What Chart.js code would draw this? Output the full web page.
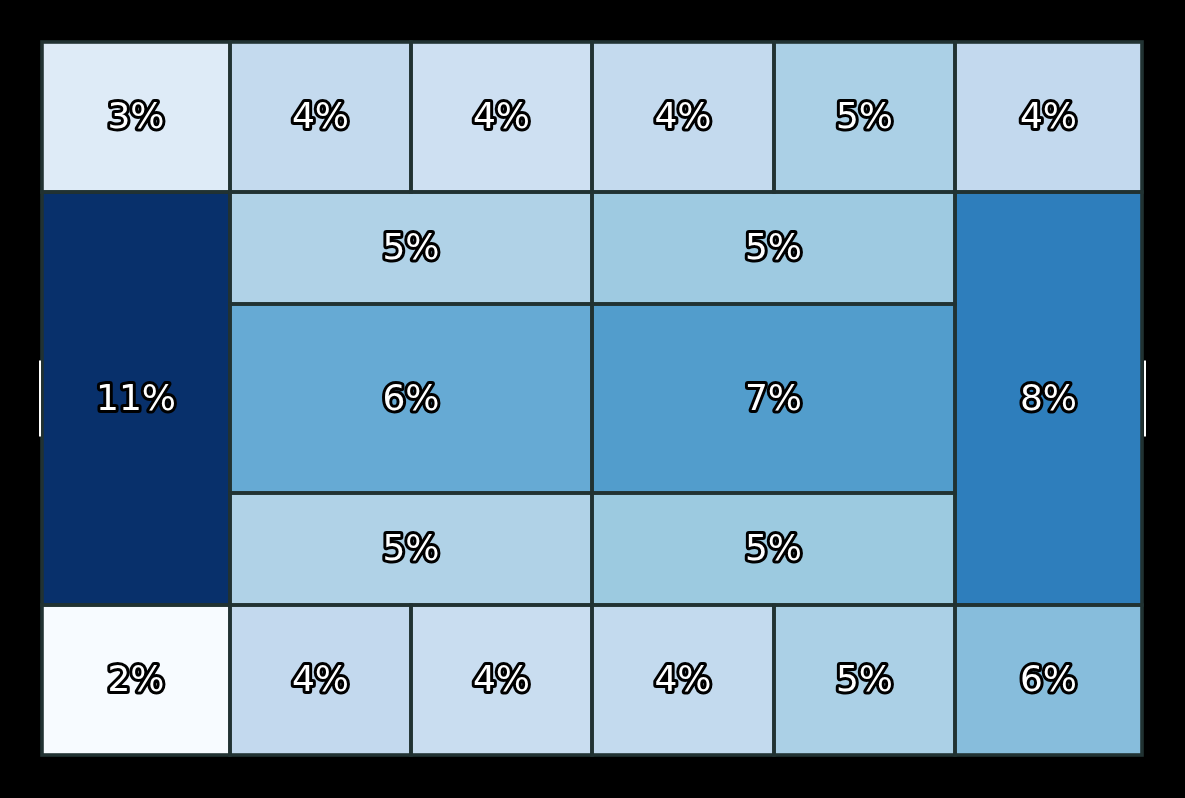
<!DOCTYPE html>
<html>
<head>
<meta charset="utf-8">
<script src="https://cdn.jsdelivr.net/npm/chart.js@4"></script>
<style>
html,body{margin:0;padding:0;background:#000;}
#wrap{width:1185px;height:798px;}
</style>
</head>
<body>
<div id="wrap"><canvas id="c" width="1185" height="798"></canvas></div>
<script>
// Cell geometry in data units (x left→right, y top→bottom)
const cellX0 = [0,1.88,3.69,5.50,7.32,9.13, 0, 1.88,5.50, 1.88,5.50, 1.88,5.50, 9.13, 0,1.88,3.69,5.50,7.32,9.13];
const cellX1 = [1.88,3.69,5.50,7.32,9.13,11.00, 1.88, 5.50,9.13, 5.50,9.13, 5.50,9.13, 11.00, 1.88,3.69,5.50,7.32,9.13,11.00];
const cellY0 = [0,0,0,0,0,0, 1.50, 1.50,1.50, 2.62,2.62, 4.51,4.51, 1.50, 5.63,5.63,5.63,5.63,5.63,5.63];
const cellY1 = [1.50,1.50,1.50,1.50,1.50,1.50, 5.63, 2.62,2.62, 4.51,4.51, 5.63,5.63, 5.63, 7.13,7.13,7.13,7.13,7.13,7.13];
const cellLabels = ['3%','4%','4%','4%','5%','4%', '11%', '5%','5%', '6%','7%', '5%','5%', '8%', '2%','4%','4%','4%','5%','6%'];
// Fill colours (Blues colormap shades)
const cellColors = ['#deebf7','#c4daee','#cee0f2','#c4daee','#abd0e6','#c3d9ee',
  '#08306b', '#b0d2e7','#9ecae1', '#66aad4','#529dcc', '#b0d2e7','#9ccae0', '#2e7ebc',
  '#f7fbff','#c3d9ee','#c9ddf0','#c3daee','#abd0e6','#87bddc'];

const points = cellLabels.map((l,i)=>({x:(cellX0[i]+cellX1[i])/2, y:(cellY0[i]+cellY1[i])/2}));

const cellPlugin = {
  id:'cells',
  afterDatasetsDraw(chart){
    const ctx = chart.ctx, xs = chart.scales.x, ys = chart.scales.y;
    ctx.save();
    for(let i=0;i<cellLabels.length;i++){
      const px0 = xs.getPixelForValue(cellX0[i]), px1 = xs.getPixelForValue(cellX1[i]);
      const py0 = ys.getPixelForValue(cellY0[i]), py1 = ys.getPixelForValue(cellY1[i]);
      ctx.fillStyle = cellColors[i];
      ctx.fillRect(px0,py0,px1-px0,py1-py0);
    }
    ctx.strokeStyle = '#213232';
    ctx.lineWidth = 3.6;
    for(let i=0;i<cellLabels.length;i++){
      const px0 = xs.getPixelForValue(cellX0[i]), px1 = xs.getPixelForValue(cellX1[i]);
      const py0 = ys.getPixelForValue(cellY0[i]), py1 = ys.getPixelForValue(cellY1[i]);
      ctx.strokeRect(px0,py0,px1-px0,py1-py0);
    }
    // small white marks beside the frame
    const a = chart.chartArea;
    const mid = (a.top+a.bottom)/2;
    ctx.fillStyle = '#ffffff';
    ctx.fillRect(a.left-3, mid-38, 2, 76);
    ctx.fillRect(a.right+2, mid-38, 2, 76);
    // labels
    ctx.font = '36px "DejaVu Sans"';
    ctx.textAlign = 'center';
    ctx.textBaseline = 'middle';
    ctx.lineJoin = 'round';
    for(let i=0;i<cellLabels.length;i++){
      const cx = xs.getPixelForValue(points[i].x), cy = ys.getPixelForValue(points[i].y);
      ctx.lineWidth = 6;
      ctx.strokeStyle = '#000';
      ctx.strokeText(cellLabels[i], cx, cy+2);
      ctx.fillStyle = '#fff';
      ctx.fillText(cellLabels[i], cx, cy+2);
    }
    ctx.restore();
  }
};

new Chart(document.getElementById('c'), {
  type:'scatter',
  data:{datasets:[{data:points, pointRadius:0, pointHoverRadius:0}]},
  options:{
    responsive:false,
    animation:false,
    layout:{padding:{left:42,right:43,top:42,bottom:43}},
    plugins:{legend:{display:false},tooltip:{enabled:false}},
    scales:{
      x:{type:'linear',min:0,max:11.00,display:false},
      y:{type:'linear',min:0,max:7.13,reverse:true,display:false}
    }
  },
  plugins:[cellPlugin]
});
</script>
</body>
</html>
